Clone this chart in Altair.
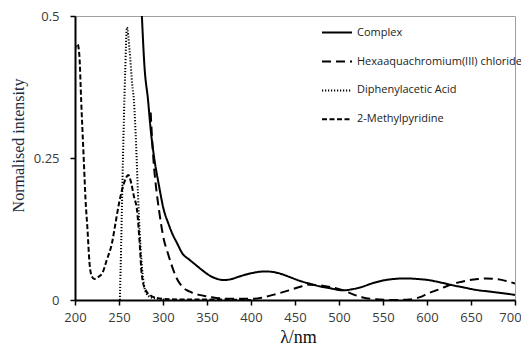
import altair as alt
import pandas as pd

series_names = ["Complex", "Hexaaquachromium(III) chloride", "Diphenylacetic Acid", "2-Methylpyridine"]

# Complex (solid)
wl_complex = [276, 279, 283, 286, 290, 295, 301, 306, 310.5, 316, 322, 330, 337, 345, 352, 360, 369,
              378, 386, 400, 413, 420, 432, 443, 455, 466, 478, 489, 504, 515, 526, 537, 549, 562,
              576, 589, 602, 615, 629, 642, 655, 670, 686, 700]
val_complex = [0.50, 0.41, 0.352, 0.30, 0.25, 0.205, 0.158, 0.135, 0.117, 0.100, 0.082, 0.071, 0.062,
               0.052, 0.044, 0.038, 0.035, 0.037, 0.041, 0.047, 0.050, 0.050, 0.047, 0.041, 0.034,
               0.029, 0.024, 0.021, 0.017, 0.019, 0.023, 0.029, 0.034, 0.037, 0.038, 0.037, 0.035,
               0.031, 0.026, 0.022, 0.018, 0.015, 0.012, 0.009]

# Hexaaquachromium(III) chloride (long dash)
wl_hexa = [286, 287, 289, 292, 295.5, 301, 305, 309, 315, 322, 330, 341, 352, 364, 380, 400, 412,
           425, 443, 455, 466, 478, 490, 505, 516, 526, 536, 545, 560, 580, 592, 602, 614, 625, 636,
           648, 658, 667, 677, 686, 700]
val_hexa = [0.33, 0.30, 0.25, 0.20, 0.158, 0.106, 0.085, 0.065, 0.040, 0.023, 0.015, 0.009, 0.006,
            0.003, 0.002, 0.002, 0.004, 0.009, 0.017, 0.023, 0.027, 0.026, 0.023, 0.017, 0.010,
            0.005, 0.002, 0.001, 0.0, 0.001, 0.005, 0.012, 0.019, 0.026, 0.031, 0.035, 0.037,
            0.038, 0.037, 0.035, 0.029]

# Diphenylacetic Acid (dotted)
wl_dpa = [251, 252.5, 254.5, 257, 259, 262, 265, 267, 269.5, 271.5, 273.5, 275.5, 278, 281, 286, 295, 305]
val_dpa = [0.0, 0.10, 0.25, 0.40, 0.48, 0.44, 0.38, 0.35, 0.27, 0.19, 0.12, 0.07, 0.03, 0.012, 0.005, 0.002, 0.0]

# 2-Methylpyridine (short dash)
wl_mp = [200, 201.5, 203, 205, 207, 210, 212, 214, 216.5, 219, 222, 226, 231, 236, 242, 246, 250,
         255.5, 258, 260.5, 264, 267, 270.5, 273.5, 275.7, 280, 288, 300, 320, 350, 400]
val_mp = [0.44, 0.45, 0.45, 0.43, 0.352, 0.246, 0.176, 0.129, 0.065, 0.042, 0.037, 0.040, 0.047,
          0.070, 0.10, 0.135, 0.170, 0.205, 0.215, 0.220, 0.205, 0.182, 0.158, 0.10, 0.047, 0.018,
          0.006, 0.002, 0.001, 0.001, 0.0]

x_ticks = [200, 250, 300, 350, 400, 450, 500, 550, 600, 650, 700]
y_ticks = [0, 0.25, 0.5]

rows = []
for name, wl, val in zip(series_names,
                         [wl_complex, wl_hexa, wl_dpa, wl_mp],
                         [val_complex, val_hexa, val_dpa, val_mp]):
    for w, v in zip(wl, val):
        rows.append({"series": name, "wl": w, "val": v})
df = pd.DataFrame(rows)

dash_range = [[1, 0], [9, 5], [1.2, 1.8], [5, 2.5]]
width_range = [2, 2, 1.3, 2]

chart = alt.Chart(df).mark_line(clip=True, interpolate="monotone", color="black").encode(
    x=alt.X("wl:Q",
            scale=alt.Scale(domain=[200, 700], nice=False),
            axis=alt.Axis(values=x_ticks, title="λ/nm", titleX=223, titleY=42,
                          titleBaseline="alphabetic", titleFont="Liberation Serif", titleFontSize=18,
                          titleFontWeight="normal", titleColor="#111", labelPadding=6,
                          labelOffset=alt.ConditionalAxisNumber(
                              condition={"test": "datum.value == 700", "value": -5}, value=0))),
    y=alt.Y("val:Q",
            scale=alt.Scale(domain=[0, 0.5], nice=False),
            axis=alt.Axis(values=y_ticks, labelExpr="format(datum.value, '~g')", labelPadding=11,
                          title="Normalised intensity", titleX=-57, titleY=129,
                          titleBaseline="middle", titleAlign="center", titleAngle=-90,
                          titleFont="Liberation Serif", titleFontSize=16,
                          titleFontWeight="normal", titleColor="#1c2a3a")),
    strokeDash=alt.StrokeDash("series:N",
                              scale=alt.Scale(domain=series_names, range=dash_range),
                              sort=series_names,
                              legend=alt.Legend(title=None, orient="none", legendX=246, legendY=0.6,
                                                symbolType="stroke", symbolSize=900,
                                                symbolStrokeWidth=2, symbolStrokeColor="black",
                                                labelFont="Open Sans", labelFontSize=11,
                                                labelColor="#222", labelOffset=4, labelLimit=400,
                                                rowPadding=7.9, padding=0)),
    strokeWidth=alt.StrokeWidth("series:N",
                                scale=alt.Scale(domain=series_names, range=width_range),
                                legend=None),
).properties(
    width=440, height=284,
    autosize=alt.AutoSizeParams(type="none"),
    padding={"left": 67, "top": 8, "right": 6, "bottom": 46},
).configure_view(
    stroke="#a0a0a0", strokeWidth=1
).configure_axis(
    grid=False, domainColor="black", domainWidth=2, tickColor="black", tickWidth=1.5,
    tickSize=5, labelFont="Open Sans", labelFontSize=13, labelColor="#3a3a3a",
    labelFlush=False
)

chart.save("out.html", embed_options={"renderer": "svg", "actions": False})
